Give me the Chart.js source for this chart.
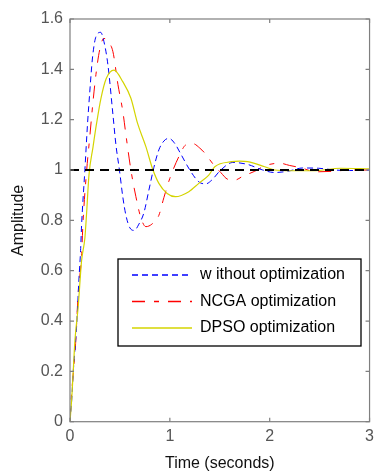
<!DOCTYPE html>
<html>
<head>
<meta charset="utf-8">
<script src="https://cdn.jsdelivr.net/npm/chart.js@4"></script>
<style>
html, body { margin: 0; padding: 0; background: #fff; }
</style>
</head>
<body>
<canvas id="myChart" width="379" height="476"></canvas>
<script>
// step responses, time in seconds
const tWithout = [0, 0.017, 0.033, 0.066, 0.089, 0.106, 0.116, 0.149, 0.175, 0.198, 0.225, 0.26, 0.307, 0.34, 0.38, 0.43, 0.46, 0.495, 0.53, 0.56, 0.6, 0.644, 0.69, 0.74, 0.79, 0.84, 0.89, 0.94, 0.99, 1.05, 1.105, 1.2, 1.29, 1.36, 1.42, 1.51, 1.63, 1.78, 1.93, 2.05, 2.18, 2.33, 2.49, 2.65, 2.8, 3.0]
const yWithout = [0, 0.086, 0.2, 0.377, 0.563, 0.68, 0.78, 1.0, 1.18, 1.31, 1.445, 1.53, 1.547, 1.51, 1.417, 1.22, 1.1, 1.0, 0.89, 0.82, 0.77, 0.76, 0.785, 0.83, 0.92, 1.01, 1.08, 1.115, 1.126, 1.105, 1.067, 1.0, 0.953, 0.945, 0.96, 1.0, 1.03, 1.022, 1.0, 0.99, 0.995, 1.008, 1.007, 1.0, 0.998, 1.0]

const tNCGA = [0, 0.01, 0.03, 0.056, 0.082, 0.116, 0.13, 0.165, 0.2, 0.23, 0.26, 0.297, 0.34, 0.38, 0.43, 0.48, 0.53, 0.56, 0.61, 0.66, 0.71, 0.76, 0.82, 0.89, 0.94, 1.0, 1.09, 1.16, 1.23, 1.3, 1.35, 1.44, 1.51, 1.58, 1.65, 1.73, 1.85, 1.96, 2.1, 2.2, 2.3, 2.47, 2.64, 2.8, 3.0]
const yNCGA = [0, 0.08, 0.18, 0.31, 0.51, 0.66, 0.79, 0.99, 1.14, 1.27, 1.38, 1.477, 1.523, 1.51, 1.47, 1.34, 1.23, 1.14, 1.0, 0.894, 0.81, 0.775, 0.785, 0.82, 0.89, 0.967, 1.053, 1.1, 1.105, 1.087, 1.067, 1.02, 0.99, 0.963, 0.96, 0.975, 0.995, 1.018, 1.027, 1.018, 1.01, 0.993, 0.995, 1.0, 1.0]

const tDPSO = [0, 0.017, 0.033, 0.05, 0.082, 0.116, 0.149, 0.165, 0.19, 0.23, 0.264, 0.31, 0.363, 0.44, 0.53, 0.61, 0.676, 0.76, 0.825, 0.89, 0.973, 1.056, 1.19, 1.29, 1.39, 1.45, 1.62, 1.7, 1.78, 1.95, 2.05, 2.21, 2.44, 2.71, 3.0]
const yDPSO = [0, 0.09, 0.205, 0.325, 0.457, 0.64, 0.73, 0.82, 0.98, 1.09, 1.18, 1.285, 1.364, 1.397, 1.35, 1.285, 1.186, 1.093, 1.007, 0.947, 0.907, 0.894, 0.914, 0.947, 0.98, 1.013, 1.033, 1.035, 1.033, 1.013, 1.0, 0.997, 0.997, 1.007, 1.005]

const tRef = [0, 3]
const yRef = [1, 1]

const seriesNames = ['w ithout optimization', 'NCGA optimization', 'DPSO optimization']
const xTicks = [0, 1, 2, 3]
const yTicks = [0, 0.2, 0.4, 0.6, 0.8, 1, 1.2, 1.4, 1.6]

// line styles shared by the curves and the legend
const lineColors = ['#0000ff', '#ff0000', '#d4d400']
const lineDashes = [[6, 4], [13, 9, 5, 9], []]

function pts(t, y) {
	return t.map((v, i) => ({ x: v, y: y[i] }))
}

const fontName = '"Liberation Sans", Arial, sans-serif'

// box round the plot with inward tick marks, plus the legend
const framePlugin = {
	id: 'frame',
	afterDraw(chart) {
		const ctx = chart.ctx
		const a = chart.chartArea
		const xs = chart.scales.x
		const ys = chart.scales.y
		ctx.save()
		ctx.strokeStyle = '#7f7f7f'
		ctx.lineWidth = 1.2
		ctx.strokeRect(a.left, a.top, a.right - a.left, a.bottom - a.top)
		ctx.beginPath()
		xTicks.forEach(v => {
			const px = xs.getPixelForValue(v)
			ctx.moveTo(px, a.bottom); ctx.lineTo(px, a.bottom - 4)
			ctx.moveTo(px, a.top); ctx.lineTo(px, a.top + 4)
		})
		yTicks.forEach(v => {
			const py = ys.getPixelForValue(v)
			ctx.moveTo(a.left, py); ctx.lineTo(a.left + 4, py)
			ctx.moveTo(a.right, py); ctx.lineTo(a.right - 4, py)
		})
		ctx.stroke()

		// legend
		const bx = 118, by = 259, bw = 243, bh = 87
		ctx.fillStyle = '#fff'
		ctx.fillRect(bx, by, bw, bh)
		ctx.strokeStyle = '#000'
		ctx.lineWidth = 1.3
		ctx.strokeRect(bx, by, bw, bh)
		const rows = [275, 301.5, 328]
		ctx.font = '16px ' + fontName
		ctx.textBaseline = 'middle'
		for (let i = 0; i < 3; i++) {
			ctx.strokeStyle = lineColors[i]
			ctx.lineWidth = 1.5
			ctx.setLineDash(lineDashes[i])
			ctx.beginPath()
			ctx.moveTo(132, rows[i]); ctx.lineTo(192, rows[i])
			ctx.stroke()
			ctx.setLineDash([])
			ctx.fillStyle = '#000'
			ctx.fillText(seriesNames[i], 200, rows[i])
		}
		ctx.restore()
	}
}

const ctx = document.getElementById('myChart')
var chart = new Chart(ctx, {
	type: 'line',
	data: {
		datasets: [{
			label: seriesNames[0],
			data: pts(tWithout, yWithout),
			borderColor: lineColors[0],
			borderWidth: 1,
			borderDash: lineDashes[0],
			cubicInterpolationMode: 'monotone',
			order: 2
		}, {
			label: seriesNames[1],
			data: pts(tNCGA, yNCGA),
			borderColor: lineColors[1],
			borderWidth: 1,
			borderDash: lineDashes[1],
			cubicInterpolationMode: 'monotone',
			order: 3
		}, {
			label: seriesNames[2],
			data: pts(tDPSO, yDPSO),
			borderColor: lineColors[2],
			borderWidth: 1.2,
			cubicInterpolationMode: 'monotone',
			order: 1
		}, {
			label: 'step',
			data: pts(tRef, yRef),
			borderColor: '#000',
			borderWidth: 2,
			borderDash: [9, 6],
			order: 0
		}]
	},
	options: {
		responsive: false,
		animation: false,
		devicePixelRatio: 1,
		layout: { padding: { top: 19, right: 6, left: 0, bottom: 0 } },
		elements: { point: { radius: 0 } },
		plugins: {
			legend: { display: false },
			tooltip: { enabled: false }
		},
		scales: {
			x: {
				type: 'linear',
				min: 0,
				max: 3,
				afterBuildTicks: s => { s.ticks = xTicks.map(v => ({ value: v })) },
				afterFit: s => { s.height = 54.3 },
				grid: { display: false, drawTicks: false },
				border: { display: false },
				ticks: { color: '#555', padding: 5, font: { size: 16, family: fontName }, callback: v => String(v) },
				title: {
					display: true,
					text: 'Time (seconds)',
					color: '#111',
					padding: { top: 0, bottom: 3 },
					font: { size: 16, family: fontName }
				}
			},
			y: {
				min: 0,
				max: 1.6,
				afterBuildTicks: s => { s.ticks = yTicks.map(v => ({ value: v })) },
				afterFit: s => { s.width = 70 },
				grid: { display: false, drawTicks: false },
				border: { display: false },
				ticks: { color: '#555', padding: 7, font: { size: 16, family: fontName }, callback: v => String(+v.toFixed(1)) },
				title: {
					display: true,
					text: 'Amplitude',
					color: '#111',
					padding: { top: 9, bottom: 0 },
					font: { size: 16, family: fontName }
				}
			}
		}
	},
	plugins: [framePlugin]
})
</script>
</body>
</html>
